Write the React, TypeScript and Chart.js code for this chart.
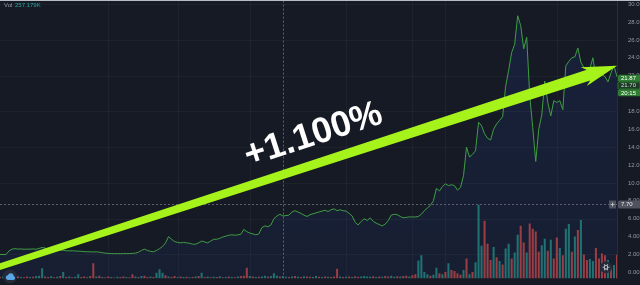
import { useEffect, useRef } from "react";
import { Chart, registerables } from "chart.js";

Chart.register(...registerables);

// Closing prices, one per session
const PRICE: number[] = [
  2.0, 2.0, 2.0, 2.4, 2.6, 2.65, 2.6, 2.62, 2.58, 2.6,
  2.6, 2.62, 2.58, 2.68, 2.78, 2.72, 2.6, 2.55, 2.55, 2.52,
  2.5, 2.48, 2.42, 2.4, 2.42, 2.38, 2.38, 2.35, 2.32, 2.3,
  2.3, 2.28, 2.3, 2.26, 2.2, 2.15, 2.12, 2.1, 2.08, 2.1,
  2.08, 2.1, 2.1, 2.1, 2.12, 2.15, 2.25, 2.45, 2.6, 2.45,
  2.35, 2.3, 2.45, 2.65, 2.9, 3.3, 4.0, 3.7, 3.45, 3.35,
  3.3, 3.35, 3.3, 3.25, 3.15, 3.15, 3.3, 3.5, 3.4, 3.3,
  3.5, 3.7, 3.7, 3.8, 3.95, 4.05, 4.15, 4.2, 4.15, 4.2,
  4.25, 4.8, 4.55, 4.4, 4.3, 4.2, 4.3, 5.0, 5.2, 5.1,
  5.3, 6.0, 6.3, 6.5, 6.3, 6.35, 6.4, 6.75, 6.9, 6.75,
  6.6, 6.4, 6.25, 6.45, 6.55, 6.65, 6.75, 6.85, 6.95, 6.8,
  7.0, 7.1, 6.9, 7.0, 6.9, 6.85, 6.6, 6.3, 5.6, 5.3,
  5.7, 6.0, 5.8, 6.1, 5.7, 5.5, 5.35, 5.2, 5.4, 5.8,
  6.4, 6.5, 6.45, 6.25, 6.1, 6.15, 6.2, 6.2, 6.2, 6.25,
  6.5, 6.9, 7.2, 7.5, 8.0, 9.4, 9.1, 9.6, 9.9, 9.7,
  9.8, 9.7, 9.2, 9.5, 10.8, 14.0, 12.9, 13.2, 13.6, 16.8,
  16.4, 15.5, 15.0, 14.8, 16.0, 16.6, 17.0, 17.4, 20.8, 22.6,
  24.6, 25.5, 28.7, 27.6, 25.0, 26.3, 19.8, 16.2, 12.4, 16.0,
  17.6, 21.4, 19.0, 17.5, 19.2, 19.0, 19.2, 18.2, 23.1, 23.6,
  24.0, 24.1, 25.1, 23.5, 22.9, 22.8, 22.8, 24.0, 21.8, 21.9,
  22.1, 21.9, 21.3, 22.3, 23.1, 21.87,
];

// Volume per session, thousands of shares
const VOLUME: number[] = [
  15, 20, 12, 25, 18, 10, 22, 15, 12, 20,
  14, 18, 25, 30, 110, 20, 15, 22, 12, 18,
  25, 70, 15, 20, 12, 18, 45, 15, 20, 12,
  25, 165, 20, 30, 15, 12, 20, 15, 10, 18,
  14, 20, 15, 12, 45, 20, 15, 25, 30, 15,
  20, 15, 60, 100, 60, 35, 20, 15, 25, 12,
  20, 15, 18, 12, 15, 20, 25, 60, 15, 20,
  12, 18, 15, 22, 12, 15, 20, 15, 12, 20,
  25, 30, 115, 25, 20, 15, 18, 20, 30, 20,
  25, 55, 30, 20, 25, 18, 15, 20, 25, 18,
  15, 22, 20, 18, 15, 25, 18, 15, 20, 18,
  15, 20, 104, 20, 15, 18, 20, 15, 22, 18,
  20, 25, 20, 18, 22, 15, 20, 18, 25, 20,
  30, 18, 22, 20, 25, 30, 20, 35, 45, 195,
  250, 70, 45, 30, 40, 115, 55, 45, 70, 165,
  90, 80, 55, 40, 90, 215, 45, 70, 175, 800,
  355, 625, 375, 200, 340, 230, 190, 150, 325, 375,
  215, 280, 475, 570, 390, 280, 595, 540, 510, 290,
  360, 430, 300, 420, 215, 445, 330, 250, 540, 590,
  290, 455, 525, 635, 260, 200, 210, 190, 330, 215,
  270, 250, 200, 130, 145, 257.179,
];

// Session direction: t = closed up, r = closed down
const VOL_DIR =
  "rtrtrtrtrr" + "trtttrrtrt" + "rtrtrttrrt" + "rrtrtrrtrt" + "rrtrrtrtrr" +
  "trtttrtrrt" + "rtrtrtrtrt" + "rtrtrtrtrt" + "rrrtrtrttr" + "tttrttrtrt" +
  "rtrrttrtrt" + "rrrtrtrtrr" + "ttttrtrtrr" + "ttrtrrtrrt" + "tttrttrtrt" +
  "rrrrtrtrtt" + "trrrtrtrtt" + "rttrrtrrrr" + "ttrtrrtrtt" + "rtrtrrttrr" +
  "rrtrtr";

const LABELS: string[] = PRICE.map((_, i) => String(i));
const Y_TICKS: number[] = [0, 2, 4, 6, 8, 10, 12, 14, 16, 18, 20, 22, 24, 26, 28, 30];
const GRID_PRICES: number[] = [2, 6, 10, 14, 18, 22, 26, 30];
const GRID_INDEXES: number[] = [36, 59, 83, 115, 137, 148, 185];

const PREV_CLOSE = 21.7;
const COUNTDOWN = "20:15";
const CROSS_INDEX = 94;
const CROSS_PRICE = 7.7;
const ARROW_FROM = { index: 0, price: 0.64 };
const ARROW_TO = { index: 205, price: 23.1 };
const ARROW_LABEL = "+1.100%";

const BG = "#161a25";
const SHIFT = 10; // canvas sits 10px above the visible frame
const FONT = "'Liberation Sans', Arial, sans-serif";

function tag(ctx: CanvasRenderingContext2D, x: number, yc: number, w: number, h: number,
  fill: string, stroke: string | null, text: string, color: string) {
  ctx.beginPath();
  const r = 1.5;
  const y = yc - h / 2;
  ctx.moveTo(x + r, y);
  ctx.lineTo(x + w, y);
  ctx.lineTo(x + w, y + h);
  ctx.lineTo(x + r, y + h);
  ctx.quadraticCurveTo(x, y + h, x, y + h - r);
  ctx.lineTo(x, y + r);
  ctx.quadraticCurveTo(x, y, x + r, y);
  ctx.closePath();
  ctx.fillStyle = fill;
  ctx.fill();
  if (stroke) {
    ctx.strokeStyle = stroke;
    ctx.lineWidth = 0.8;
    ctx.stroke();
  }
  ctx.fillStyle = color;
  ctx.font = `6px ${FONT}`;
  ctx.textAlign = "left";
  ctx.textBaseline = "middle";
  ctx.fillText(text, x + 3, yc + 0.3);
}

const overlay = {
  id: "overlay",
  beforeDraw(chart: any) {
    const { ctx, width, height } = chart;
    ctx.save();
    ctx.fillStyle = BG;
    ctx.fillRect(0, 0, width, height);
    ctx.restore();
  },
  beforeDatasetsDraw(chart: any) {
    const { ctx, chartArea, scales } = chart;
    ctx.save();
    ctx.strokeStyle = "rgba(255,255,255,0.035)";
    ctx.lineWidth = 1;
    GRID_PRICES.forEach((p) => {
      const y = Math.round(scales.y.getPixelForValue(p)) + 0.5;
      ctx.beginPath();
      ctx.moveTo(chartArea.left, y);
      ctx.lineTo(chartArea.right, y);
      ctx.stroke();
    });
    GRID_INDEXES.forEach((i) => {
      const x = Math.round(scales.x.getPixelForValue(i)) + 0.5;
      ctx.beginPath();
      ctx.moveTo(x, chartArea.top);
      ctx.lineTo(x, chartArea.bottom);
      ctx.stroke();
    });
    ctx.restore();
  },
  afterDraw(chart: any) {
    const { ctx, chartArea, scales, width } = chart;
    const xs = scales.x;
    const ys = scales.y;
    ctx.save();

    // crosshair
    ctx.strokeStyle = "#5d606b";
    ctx.lineWidth = 1;
    ctx.setLineDash([2, 2]);
    const cx = Math.round(xs.getPixelForValue(CROSS_INDEX)) + 0.5;
    const cy = Math.round(ys.getPixelForValue(CROSS_PRICE)) + 0.5;
    ctx.beginPath();
    ctx.moveTo(cx, chartArea.top);
    ctx.lineTo(cx, chartArea.bottom);
    ctx.moveTo(chartArea.left, cy);
    ctx.lineTo(chartArea.right, cy);
    ctx.stroke();
    ctx.setLineDash([]);

    // trend arrow
    const x0 = xs.getPixelForValue(ARROW_FROM.index);
    const y0 = ys.getPixelForValue(ARROW_FROM.price);
    const x1 = xs.getPixelForValue(ARROW_TO.index);
    const y1 = ys.getPixelForValue(ARROW_TO.price);
    const ang = Math.atan2(y1 - y0, x1 - x0);
    const L = Math.hypot(x1 - x0, y1 - y0);
    ctx.save();
    ctx.translate(x0, y0);
    ctx.rotate(ang);
    ctx.fillStyle = "#a6f21b";
    ctx.beginPath();
    ctx.moveTo(-12, -3.2);
    ctx.lineTo(L - 30, -5.6);
    ctx.lineTo(L - 35, -9.8);
    ctx.lineTo(L, 0);
    ctx.lineTo(L - 35, 9.8);
    ctx.lineTo(L - 30, 5.6);
    ctx.lineTo(-12, 3.2);
    ctx.closePath();
    ctx.fill();
    ctx.fillStyle = "#ffffff";
    ctx.font = `bold 36px ${FONT}`;
    ctx.textAlign = "center";
    ctx.textBaseline = "middle";
    ctx.fillText(ARROW_LABEL, L * 0.522, -28);
    ctx.restore();

    // price tags on the scale
    const tx = chartArea.right + 1;
    const tw = width - tx;
    const last = PRICE[PRICE.length - 1];
    const yLast = ys.getPixelForValue(last) + 1.5;
    tag(ctx, tx, yLast, tw, 7, "#2e7d32", null, last.toFixed(2), "#ffffff");
    tag(ctx, tx, yLast + 7.2, tw, 7, "#1c3b26", "#2e7d32", PREV_CLOSE.toFixed(2), "#d6dbd6");
    tag(ctx, tx, yLast + 14.4, tw, 7, "#2e7d32", null, COUNTDOWN, "#ffffff");
    tag(ctx, tx, cy, tw, 8, "#50535e", null, CROSS_PRICE.toFixed(2), "#e6e8ee");
    // "+" button beside the crosshair price
    ctx.fillStyle = "#50535e";
    ctx.fillRect(chartArea.right - 8, cy - 4, 7, 8);
    ctx.strokeStyle = "#c9ccd4";
    ctx.lineWidth = 0.8;
    ctx.beginPath();
    ctx.moveTo(chartArea.right - 6.5, cy);
    ctx.lineTo(chartArea.right - 2.5, cy);
    ctx.moveTo(chartArea.right - 4.5, cy - 2);
    ctx.lineTo(chartArea.right - 4.5, cy + 2);
    ctx.stroke();

    // volume legend
    ctx.font = `6px ${FONT}`;
    ctx.textAlign = "left";
    ctx.textBaseline = "middle";
    ctx.fillStyle = "#9598a1";
    ctx.fillText("Vol", 4, SHIFT + 5.8);
    ctx.fillStyle = "#26a69a";
    ctx.fillText(`${VOLUME[VOLUME.length - 1].toFixed(3)}K`, 15, SHIFT + 5.8);

    // logo badge, bottom left
    ctx.fillStyle = "#262b38";
    ctx.beginPath();
    ctx.arc(10, SHIFT + 276.5, 7, 0, Math.PI * 2);
    ctx.fill();
    ctx.fillStyle = "#5aa7ea";
    ctx.beginPath();
    ctx.arc(8, SHIFT + 277.5, 2.2, 0, Math.PI * 2);
    ctx.arc(10.8, SHIFT + 276, 2.8, 0, Math.PI * 2);
    ctx.arc(13.2, SHIFT + 278, 1.9, 0, Math.PI * 2);
    ctx.fill();
    ctx.fillRect(7.5, SHIFT + 277.5, 6, 2.4);

    // settings badge, bottom right
    ctx.fillStyle = "#262b38";
    ctx.beginPath();
    ctx.arc(606, SHIFT + 267.3, 6, 0, Math.PI * 2);
    ctx.fill();
    ctx.strokeStyle = "#c3c6ce";
    ctx.lineWidth = 1.1;
    ctx.beginPath();
    ctx.arc(606, SHIFT + 267.3, 1.8, 0, Math.PI * 2);
    ctx.stroke();
    for (let k = 0; k < 6; k++) {
      const a = (k * Math.PI) / 3;
      ctx.beginPath();
      ctx.moveTo(606 + Math.cos(a) * 2.3, SHIFT + 267.3 + Math.sin(a) * 2.3);
      ctx.lineTo(606 + Math.cos(a) * 3.4, SHIFT + 267.3 + Math.sin(a) * 3.4);
      ctx.stroke();
    }

    // frame top edge
    ctx.fillStyle = "#b9bcc4";
    ctx.fillRect(0, SHIFT, width, 1);
    ctx.restore();
  },
};

export default function App() {
  const ref = useRef<HTMLCanvasElement | null>(null);

  useEffect(() => {
    const canvas = ref.current;
    if (!canvas) return;
    const ctx = canvas.getContext("2d")!;
    const grad = ctx.createLinearGradient(0, 0, 0, 295);
    grad.addColorStop(0, "rgba(41, 98, 255, 0.10)");
    grad.addColorStop(1, "rgba(41, 98, 255, 0.06)");

    const chart = new Chart(canvas, {
      type: "bar",
      data: {
        labels: LABELS,
        datasets: [
          {
            type: "line",
            data: PRICE,
            yAxisID: "y",
            borderColor: "#3f9d44",
            borderWidth: 1,
            pointRadius: 0,
            tension: 0,
            fill: "start",
            backgroundColor: grad,
            order: 0,
          } as any,
          {
            type: "bar",
            data: VOLUME,
            yAxisID: "v",
            backgroundColor: VOLUME.map((_, i) =>
              VOL_DIR[i] === "t" ? "rgba(38,166,154,0.62)" : "rgba(239,83,80,0.6)"
            ),
            borderWidth: 0,
            barPercentage: 0.68,
            categoryPercentage: 1,
            order: 1,
          },
        ],
      },
      options: {
        responsive: false,
        animation: false,
        devicePixelRatio: 1,
        layout: { padding: { left: 0, right: 0, top: 0, bottom: 1 } },
        plugins: {
          legend: { display: false },
          tooltip: { enabled: false },
          filler: { drawTime: "beforeDatasetsDraw" },
        } as any,
        scales: {
          x: {
            type: "category",
            offset: false,
            display: false,
            grid: { display: false },
          },
          y: {
            position: "right",
            min: -0.675,
            max: 30.84,
            grid: { display: false },
            border: { display: true, color: "#2a2e39" },
            afterBuildTicks: (scale: any) => {
              scale.ticks = Y_TICKS.map((v) => ({ value: v }));
            },
            afterFit: (scale: any) => {
              scale.width = 23;
            },
            ticks: {
              autoSkip: false,
              padding: 3,
              color: "#9598a1",
              font: { size: 6, family: FONT },
              callback: (v: any) => Number(v).toFixed(2),
            },
          },
          v: {
            display: false,
            min: 0,
            max: 3058,
          },
        },
      },
      plugins: [overlay],
    });
    return () => chart.destroy();
  }, []);

  return (
    <div
      style={{
        position: "fixed",
        left: 0,
        top: 0,
        width: 640,
        height: 285,
        overflow: "hidden",
        background: BG,
      }}
    >
      <canvas
        ref={ref}
        width={640}
        height={295}
        style={{ position: "absolute", left: 0, top: -SHIFT, width: 640, height: 295 }}
      />
    </div>
  );
}
